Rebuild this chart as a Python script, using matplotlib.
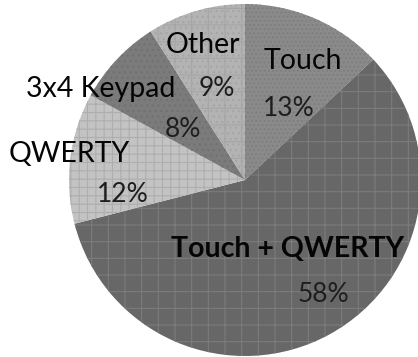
import matplotlib
matplotlib.use("Agg")
import matplotlib.pyplot as plt

# Data (clockwise from 12 o'clock)
categories = ["Touch", "Touch + QWERTY", "QWERTY", "3x4 Keypad", "Other"]
shares = [13, 58, 12, 8, 9]
pct_labels = ["13%", "58%", "12%", "8%", "9%"]

# Styles
face_colors = ["#8a8a8a", "#676767", "#c3c3c3", "#7b7b7b", "#b3b3b3"]
hatch_colors = ["#7d7d7d", "#7c7c7c", "#aeaeae", "#707070", "#a5a5a5"]
hatches = ["....", "+", "++", "...", "+..."]
bold = [False, True, False, False, False]

# Layout of texts in pie coordinates (x center, baseline y)
name_pos = [(0.33, 0.631), (0.239, -0.4375), (-1.0, 0.102), (-0.818, 0.472), (-0.239, 0.722)]
pct_pos = [(0.25, 0.364), (0.443, -0.693), (-0.693, -0.125), (-0.352, 0.244), (-0.159, 0.477)]

plt.rcParams["font.family"] = ["Lato", "DejaVu Sans"]
plt.rcParams["hatch.linewidth"] = 0.8

fig = plt.figure(figsize=(4.18, 3.57), dpi=100)
W, H = 418, 357
cx, cy, r = 245, 180, 176
ax = fig.add_axes([(cx - r) / W, (H - cy - r) / H, 2 * r / W, 2 * r / H])
ax.set_aspect("equal")
ax.axis("off")

wedges, _ = ax.pie(shares, startangle=90, counterclock=False,
                   colors=face_colors, radius=1, center=(0, 0),
                   wedgeprops=dict(linewidth=0), frame=False)
for w, hc, h in zip(wedges, hatch_colors, hatches):
    w.set_edgecolor(hc)
    w.set_linewidth(0)
    w.set_hatch(h)
ax.set_xlim(-1, 1)
ax.set_ylim(-1, 1)

for name, pct, npos, ppos, b in zip(categories, pct_labels, name_pos, pct_pos, bold):
    ax.text(npos[0], npos[1], name, ha="center", va="baseline", fontsize=20.5,
            color="#050505", fontweight="bold" if b else "normal")
    ax.text(ppos[0], ppos[1], pct, ha="center", va="baseline", fontsize=19,
            color="#1e1e1e")

fig.savefig("out.png", dpi=100)
